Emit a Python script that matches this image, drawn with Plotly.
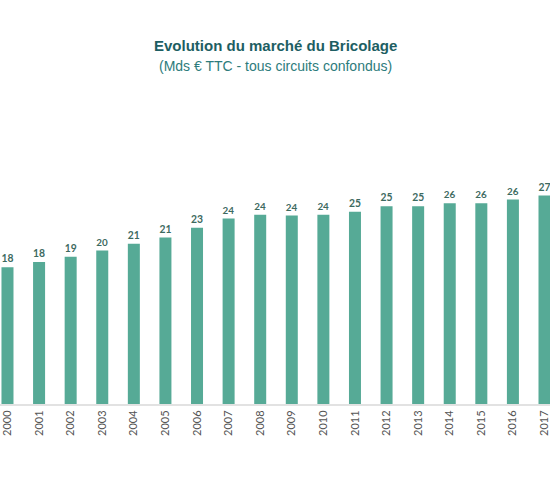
import plotly.graph_objects as go

# Marché du bricolage, Mds € TTC
years = list(range(2000, 2018))
values = [17.9, 18.6, 19.3, 20.1, 21.0, 21.8, 23.1, 24.3, 24.8, 24.7,
          24.8, 25.2, 25.9, 25.9, 26.3, 26.3, 26.8, 27.3]
labels = ['18', '18', '19', '20', '21', '21', '23', '24', '24', '24',
          '24', '25', '25', '25', '26', '26', '26', '27']

TEAL = '#1d5e63'
BAR = '#56aa96'

fig = go.Figure(go.Bar(
    x=years,
    y=values,
    text=labels,
    textposition='outside',
    textangle=0,
    textfont=dict(family='Lato, Noto Sans, sans-serif', size=11, color='#3d6a5f', weight='bold'),
    marker=dict(color=BAR, line=dict(width=0)),
    width=0.38,
    cliponaxis=False,
    hoverinfo='skip',
))

plot_h = 480 - 175 - 76


def py(pixel_y):
    # pixel row from the top -> paper coordinate
    return (480 - 76 - pixel_y) / plot_h


fig.update_layout(
    width=550,
    height=480,
    margin=dict(l=0, r=0, t=175, b=76),
    paper_bgcolor='white',
    plot_bgcolor='white',
    showlegend=False,
    annotations=[
        dict(text='<b>Evolution du marché du Bricolage</b>', x=0.5, y=py(45),
             xref='paper', yref='paper', showarrow=False, yanchor='middle',
             font=dict(family='Liberation Sans, Arial, sans-serif', size=15, color=TEAL)),
        dict(text='(Mds € TTC - tous circuits confondus)', x=0.5, y=py(66),
             xref='paper', yref='paper', showarrow=False, yanchor='middle',
             font=dict(family='Liberation Sans, Arial, sans-serif', size=14, color='#2d7c7c')),
    ],
)

fig.update_xaxes(
    range=[1999.763, 2017.174],
    tickmode='array',
    tickvals=years,
    ticktext=[str(y) for y in years],
    tickangle=-90,
    tickfont=dict(family='Lato, Noto Sans, sans-serif', size=11, color='#555555'),
    ticklabeloverflow='allow',
    showline=True,
    linecolor='#e2e2e2',
    linewidth=2,
    showgrid=False,
    zeroline=False,
    ticks='',
    fixedrange=True,
)
fig.update_yaxes(
    range=[0, 30],
    visible=False,
    showgrid=False,
    zeroline=False,
    fixedrange=True,
)

# drop the default page margin so the figure fills the window
fig.write_html('out.html', config={'displayModeBar': False},
               post_script="document.body.style.margin='0';")
